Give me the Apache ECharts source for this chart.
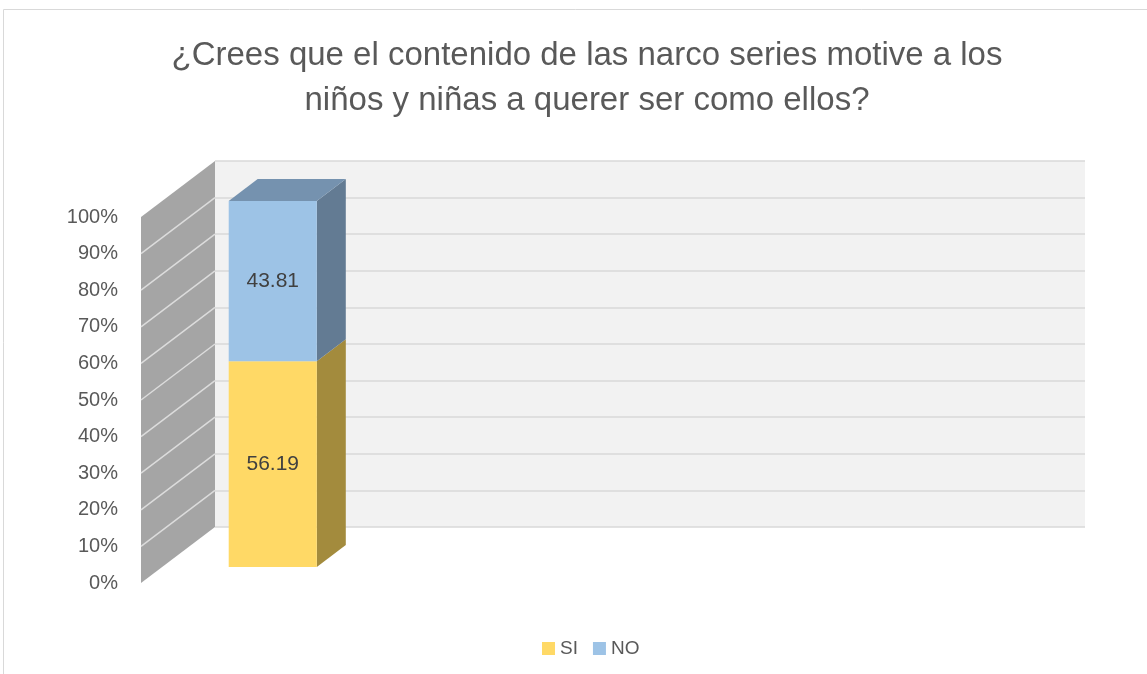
<!DOCTYPE html>
<html>
<head>
<meta charset="utf-8">
<script src="https://cdn.jsdelivr.net/npm/echarts@6/dist/echarts.min.js"></script>
<style>
  html, body { margin: 0; padding: 0; background: #fff; }
  #chart { width: 1147px; height: 674px; }
</style>
</head>
<body>
<div id="chart"></div>
<script>
var titleText = "¿Crees que el contenido de las narco series motive a los\nniños y niñas a querer ser como ellos?";
var categories = [""];
var seriesNames = ["SI", "NO"];
var siValues = [56.19];
var noValues = [43.81];
var yTicks = [0, 10, 20, 30, 40, 50, 60, 70, 80, 90, 100];

var FONT = "Liberation Sans";
// 3d look: where the front plane sits from the back wall
var WALL_DEPTH = [-74, 56];
var BAR_FRONT = [-51, 40];
var BAR_BACK = [-22, 18];
var BAR_RATIO = 0.405;

var chart = echarts.init(document.getElementById("chart"));

// stacked ranges [cat, from, to]
var siData = siValues.map(function (v, i) { return [i, 0, v]; });
var noData = noValues.map(function (v, i) { return [i, siValues[i], siValues[i] + v]; });

function boxItem(face, side, top, withTop) {
  return function (params, api) {
    var cat = api.value(0), lo = api.value(1), hi = api.value(2);
    var bw = api.size([1, 0])[0] * BAR_RATIO;
    var pLo = api.coord([cat, lo]);
    var pHi = api.coord([cat, hi]);
    var x0 = pLo[0] - bw / 2 + BAR_FRONT[0];
    var x1 = x0 + bw;
    var yb = pLo[1] + BAR_FRONT[1];
    var yt = pHi[1] + BAR_FRONT[1];
    var dx = BAR_BACK[0] - BAR_FRONT[0];
    var dy = BAR_BACK[1] - BAR_FRONT[1];
    var kids = [
      {
        type: "polygon",
        shape: { points: [[x1, yb], [x1 + dx, yb + dy], [x1 + dx, yt + dy], [x1, yt]] },
        style: { fill: side }
      },
      {
        type: "rect",
        shape: { x: x0, y: yt, width: bw, height: yb - yt },
        style: { fill: face }
      },
      {
        type: "text",
        style: {
          text: (hi - lo).toFixed(2),
          x: (x0 + x1) / 2,
          y: (yb + yt) / 2,
          align: "center",
          verticalAlign: "middle",
          fill: "#404040",
          font: "21px '" + FONT + "'"
        }
      }
    ];
    if (withTop) {
      kids.push({
        type: "polygon",
        shape: { points: [[x0, yt], [x1, yt], [x1 + dx, yt + dy], [x0 + dx, yt + dy]] },
        style: { fill: top }
      });
    }
    return { type: "group", children: kids };
  };
}

function sideWall(params, api) {
  var cs = params.coordSys;
  var bx = cs.x;
  var yTop = api.coord([0, yTicks[yTicks.length - 1]])[1];
  var yBot = api.coord([0, yTicks[0]])[1];
  var kids = [{
    type: "polygon",
    shape: {
      points: [
        [bx, yTop], [bx, yBot],
        [bx + WALL_DEPTH[0], yBot + WALL_DEPTH[1]],
        [bx + WALL_DEPTH[0], yTop + WALL_DEPTH[1]]
      ]
    },
    style: { fill: "#A5A5A5" }
  }];
  yTicks.slice(1, -1).forEach(function (t) {
    var y = api.coord([0, t])[1];
    kids.push({
      type: "line",
      shape: { x1: bx, y1: y, x2: bx + WALL_DEPTH[0], y2: y + WALL_DEPTH[1] },
      style: { stroke: "#DCDCDC", lineWidth: 1.5 }
    });
  });
  return { type: "group", children: kids };
}

chart.setOption({
  animation: false,
  title: {
    text: titleText,
    left: 582,
    textAlign: "center",
    top: 28,
    textStyle: {
      fontFamily: FONT,
      fontSize: 33,
      fontWeight: "normal",
      color: "#595959",
      lineHeight: 45
    }
  },
  legend: {
    data: seriesNames,
    left: 537,
    top: 634,
    icon: "rect",
    itemWidth: 13,
    itemHeight: 13,
    itemGap: 15,
    textStyle: { fontFamily: FONT, fontSize: 19, color: "#595959" }
  },
  graphic: [{
    type: "rect",
    shape: { x: 3.5, y: 9.5, width: 1300, height: 800 },
    style: { fill: "none", stroke: "#D9D9D9", lineWidth: 1 },
    silent: true
  }],
  grid: [
    // back wall
    { left: 215, top: 161, width: 870, height: 366, show: true, backgroundColor: "#F2F2F2", borderWidth: 0 },
    // front plane, only for the axis labels
    { left: 141, top: 217, width: 10, height: 366 }
  ],
  xAxis: [
    { type: "category", gridIndex: 0, data: categories, min: 0, max: 3, show: false },
    { type: "category", gridIndex: 1, data: categories, show: false }
  ],
  yAxis: [
    {
      type: "value", gridIndex: 0,
      min: yTicks[0], max: yTicks[yTicks.length - 1], interval: 10,
      axisLine: { show: false }, axisTick: { show: false }, axisLabel: { show: false },
      splitLine: { lineStyle: { color: "#D9D9D9", width: 1.5 } }
    },
    {
      type: "value", gridIndex: 1,
      min: yTicks[0], max: yTicks[yTicks.length - 1], interval: 10,
      axisLine: { show: false }, axisTick: { show: false }, splitLine: { show: false },
      axisLabel: {
        formatter: "{value}%",
        margin: 23,
        fontFamily: FONT,
        fontSize: 20,
        color: "#595959"
      }
    }
  ],
  series: [
    {
      type: "custom",
      name: "wall",
      xAxisIndex: 0, yAxisIndex: 0,
      data: [[0]],
      renderItem: sideWall,
      silent: true,
      z: 1
    },
    {
      type: "custom",
      name: seriesNames[0],
      xAxisIndex: 0, yAxisIndex: 0,
      data: siData,
      itemStyle: { color: "#FFD966" },
      renderItem: boxItem("#FFD966", "#A38B3D", "#BFA34D", false),
      z: 3
    },
    {
      type: "custom",
      name: seriesNames[1],
      xAxisIndex: 0, yAxisIndex: 0,
      data: noData,
      itemStyle: { color: "#9DC3E6" },
      renderItem: boxItem("#9DC3E6", "#637B93", "#7592AF", true),
      z: 3
    }
  ]
});
</script>
</body>
</html>
